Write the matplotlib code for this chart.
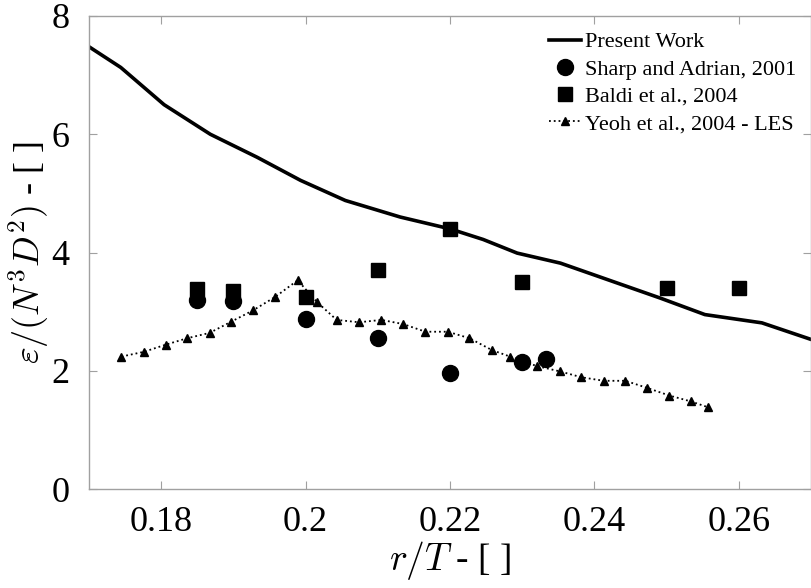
import matplotlib
matplotlib.use('Agg')
import matplotlib.pyplot as plt

# data
pw_x = [0.170, 0.1744, 0.1804, 0.1868, 0.1933, 0.1993, 0.2055, 0.2131, 0.2200,
        0.2246, 0.2293, 0.2353, 0.2491, 0.2553, 0.2632, 0.2700]
pw_y = [7.48, 7.13, 6.50, 6.00, 5.61, 5.22, 4.88, 4.60, 4.40,
        4.22, 3.99, 3.82, 3.23, 2.95, 2.81, 2.53]

sharp_x = [0.185, 0.190, 0.200, 0.210, 0.220, 0.230, 0.2333]
sharp_y = [3.19, 3.18, 2.88, 2.55, 1.97, 2.14, 2.20]

baldi_x = [0.185, 0.190, 0.200, 0.210, 0.220, 0.230, 0.250, 0.260]
baldi_y = [3.39, 3.35, 3.24, 3.71, 4.39, 3.50, 3.40, 3.40]

yeoh_x = [0.1745, 0.1776, 0.1806, 0.1836, 0.1867, 0.1897, 0.1927, 0.1958, 0.1989,
          0.2016, 0.2043, 0.2074, 0.2105, 0.2135, 0.2166, 0.2197, 0.2227, 0.2258,
          0.2283, 0.2320, 0.2352, 0.2382, 0.2413, 0.2443, 0.2473, 0.2504, 0.2534,
          0.2558]
yeoh_y = [2.24, 2.32, 2.44, 2.55, 2.64, 2.83, 3.02, 3.25, 3.53,
          3.16, 2.86, 2.82, 2.86, 2.79, 2.66, 2.66, 2.55, 2.35,
          2.24, 2.08, 1.99, 1.89, 1.83, 1.83, 1.71, 1.58, 1.48,
          1.38]

xticks = [0.18, 0.2, 0.22, 0.24, 0.26]
xtick_labels = ['0.18', '0.2', '0.22', '0.24', '0.26']
yticks = [0, 2, 4, 6, 8]

plt.rcParams['font.family'] = ['Liberation Serif', 'DejaVu Serif']
plt.rcParams['mathtext.fontset'] = 'cm'

fig = plt.figure(figsize=(8.11, 5.88), dpi=100)
ax = fig.add_axes([89/811, 99/588, 722/811, 473/588])

ax.plot(pw_x, pw_y, color='black', lw=2.6, label='Present Work')
ax.plot(sharp_x, sharp_y, 'o', color='black', ms=11.5, ls='none',
        label='Sharp and Adrian, 2001')
ax.plot(baldi_x, baldi_y, 's', color='black', ms=9.5, ls='none',
        label='Baldi et al., 2004')
ax.plot(yeoh_x, yeoh_y, ':', color='black', lw=1.3, marker='^', ms=6,
        label='Yeoh et al., 2004 - LES')

ax.set_xlim(0.17, 0.27)
ax.set_ylim(0, 8)
ax.set_xticks(xticks)
ax.set_xticklabels(xtick_labels)
ax.set_yticks(yticks)

for s in ax.spines.values():
    s.set_color('#a0a0a0')
    s.set_linewidth(1.0)
ax.tick_params(direction='in', length=6, color='#a0a0a0', labelsize=26,
               top=True, right=True)
ax.tick_params(axis='x', pad=12)
ax.tick_params(axis='y', pad=14)

ax.set_xlabel(r'$r/T$ - [ ]', fontsize=27, labelpad=0)
ax.set_ylabel(r'$\varepsilon/(N^3D^2)$ - [ ]', fontsize=26, labelpad=0)

ax.legend(loc='upper right', bbox_to_anchor=(0.995, 0.99), frameon=False,
          fontsize=16, handlelength=1.4, handletextpad=0.2,
          labelspacing=0.3, borderaxespad=0.2, borderpad=0.3)

fig.savefig('out.png', dpi=100)
